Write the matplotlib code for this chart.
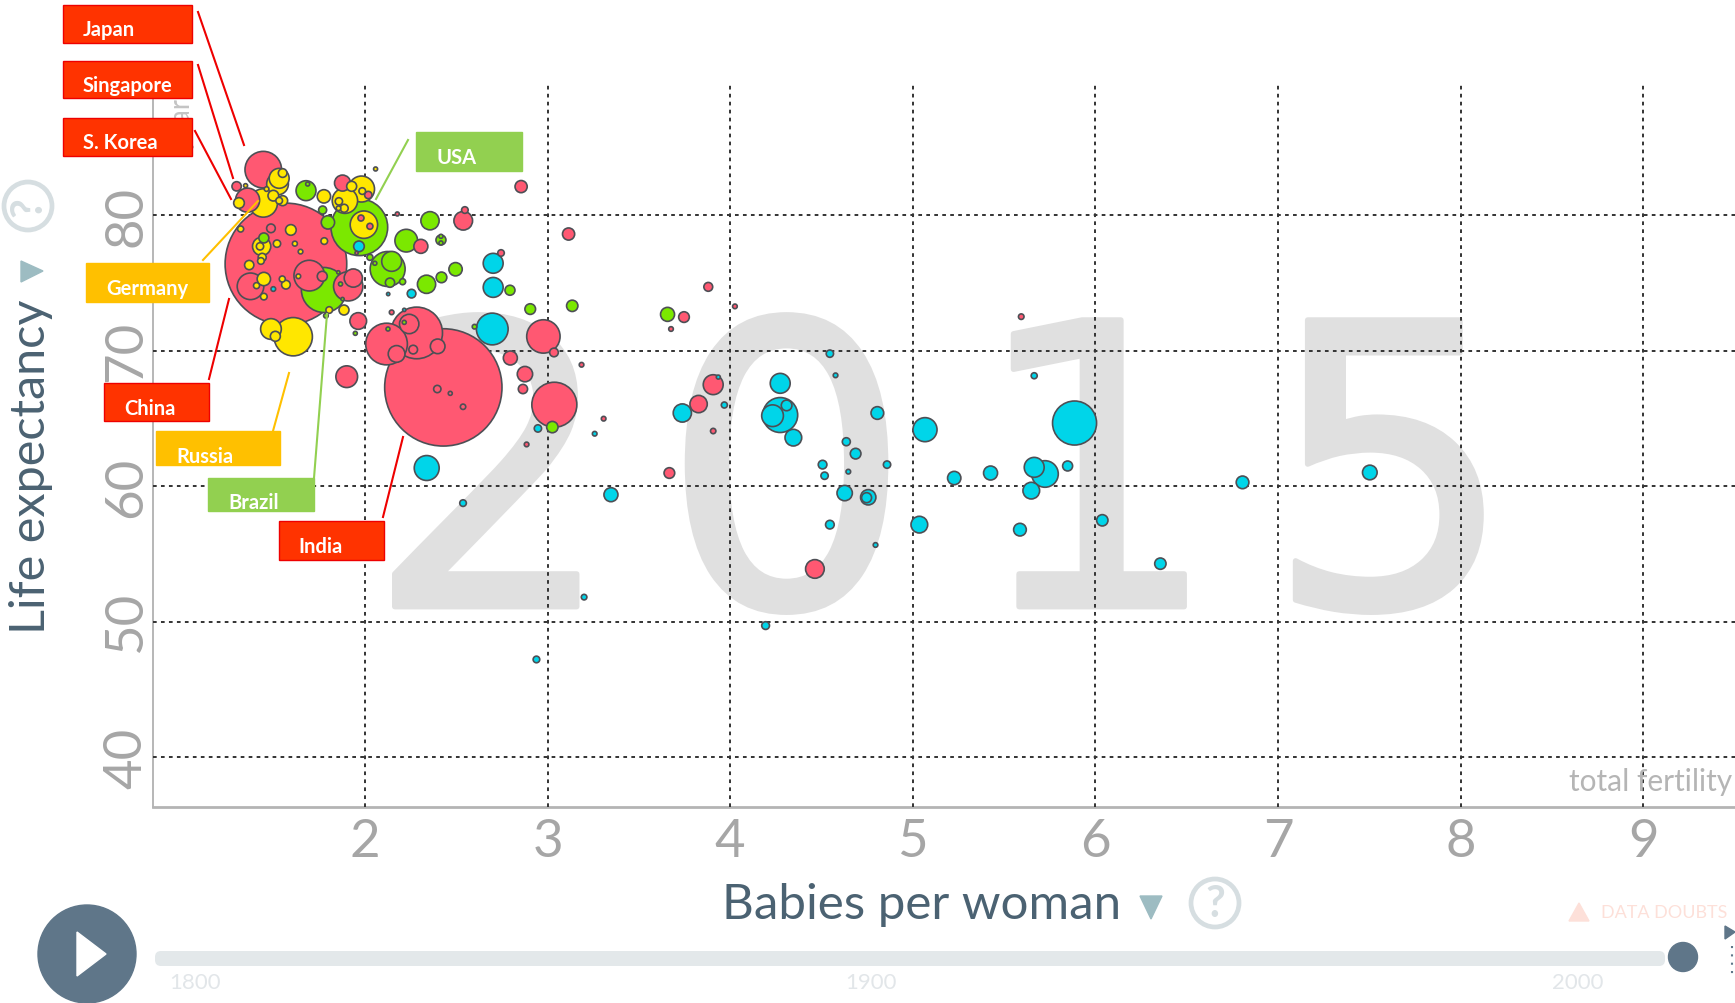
import numpy as np
import matplotlib
matplotlib.use('Agg')
import matplotlib.pyplot as plt
import matplotlib.patheffects as pe
from matplotlib.patches import Polygon, Circle, Rectangle, FancyBboxPatch

plt.rcParams['font.family'] = ['Lato', 'DejaVu Sans']

# asia (pink): fertility, life expectancy, population in millions
asia_fert = [1.443, 1.297, 1.357, 1.877, 2.018, 1.978, 2.027, 1.954, 2.177, 2.538, 2.547, 2.306, 1.485, 1.567,
             1.373, 1.695, 1.766, 1.936, 1.908, 1.963, 2.146, 2.118, 2.283, 2.242, 2.173, 2.264, 2.398, 1.90,
             2.429, 2.396, 2.467, 2.537, 2.977, 3.035, 2.796, 2.876, 2.865, 3.037, 2.885, 3.186, 3.307, 3.676,
             3.747, 3.907, 3.827, 3.907, 3.667, 4.026, 2.855, 3.115, 2.745, 3.88, 4.464, 5.594]
asia_life = [83.35, 82.12, 81.1, 82.36, 81.48, 79.78, 79.17, 77.2, 80.08, 79.58, 80.37, 77.69, 79.02, 76.39,
             74.74, 75.53, 75.48, 75.35, 74.74, 72.18, 72.82, 70.48, 71.3, 71.96, 69.75, 70.07, 70.31, 68.07,
             67.28, 67.16, 66.84, 65.85, 71.04, 69.86, 69.45, 68.26, 67.16, 66.0, 63.07, 68.95, 64.97, 71.59,
             72.47, 67.48, 66.05, 64.06, 60.96, 73.26, 82.1, 78.6, 77.2, 74.7, 53.88, 72.5]
asia_pop = [125, 8.1, 54, 24, 5, 3.4, 3.4, 1, 1.5, 32.5, 4.1, 18.3, 7, 1381,
            66, 88, 9.3, 31, 80, 26, 2, 162, 249, 35, 26, 7, 20, 44,
            1285, 5, 1.5, 2.7, 104, 7, 18.3, 22, 8, 189, 2, 2, 2, 2,
            10.6, 37, 28, 2.7, 10.6, 2, 13.8, 13.8, 4, 7.3, 32.5, 2.9]

# europe (yellow)
eur_fert = [1.310, 1.346, 1.443, 1.521, 1.530, 1.549, 1.498, 1.530, 1.549, 1.461, 1.775, 1.981, 1.890, 1.927,
            1.985, 1.857, 1.886, 1.855, 1.994, 1.594, 1.319, 1.434, 1.425, 1.518, 1.616, 1.647, 1.777, 1.430,
            1.437, 1.366, 1.446, 1.406, 1.446, 1.547, 1.567, 1.635, 1.804, 1.885, 1.607, 1.485, 1.509, 2.058]
eur_life = [80.89, 82.17, 80.89, 82.29, 82.71, 83.1, 81.43, 81.06, 81.06, 81.92, 81.38, 81.92, 81.06, 82.12,
            81.77, 81.01, 80.5, 80.5, 79.29, 78.9, 78.97, 77.69, 77.69, 77.89, 77.89, 77.3, 78.08, 76.61,
            76.88, 76.31, 75.28, 74.79, 73.98, 75.28, 74.86, 75.48, 72.99, 72.99, 71.02, 71.59, 71.05, 83.4]
eur_pop = [10.6, 1.5, 75, 44, 37, 7, 10.6, 4.1, 9.3, 2, 16.6, 63, 60, 9.3,
           4.1, 5, 6, 2, 70, 10.6, 3.4, 31, 5, 5, 2.3, 2, 4.1, 4.1,
           6, 8, 16.6, 3.4, 4.1, 3.4, 7, 2, 4.1, 9.3, 137, 40, 9.3, 1.5]

# americas (green)
ame_fert = [1.677, 1.686, 1.768, 1.797, 1.969, 2.356, 2.226, 2.416, 2.416, 2.416, 2.124, 2.146, 2.137, 2.206,
            2.027, 2.054, 2.337, 2.419, 2.496, 1.446, 1.775, 1.866, 1.854, 1.877, 1.786, 1.947, 2.126, 2.215,
            2.60, 2.905, 3.135, 3.657, 3.026, 2.794]
ame_life = [81.8, 82.29, 80.37, 79.46, 79.1, 79.58, 78.11, 78.16, 78.43, 77.94, 76.02, 76.58, 75.01, 75.08,
            76.88, 76.44, 74.89, 75.4, 76.0, 78.31, 74.47, 74.91, 75.77, 73.8, 72.57, 71.27, 71.59, 72.08,
            71.76, 73.06, 73.3, 72.67, 64.35, 74.45]
ame_pop = [37, 1.5, 6, 16.6, 300, 31, 48, 9.3, 1.5, 1.5, 114, 37, 8, 3.4,
           3.4, 1.5, 31, 10.6, 16.6, 9.3, 189, 1.5, 1, 1, 2, 1.5, 1.5, 1.5,
           2, 10.6, 12, 18.3, 12, 9.3]

# africa (cyan)
afr_fert = [1.967, 1.498, 2.127, 2.255, 2.702, 2.702, 2.215, 2.338, 2.537, 2.697, 2.947, 3.258, 3.347, 3.738,
            3.968, 3.935, 4.546, 4.577, 4.274, 4.274, 4.232, 4.309, 4.346, 4.806, 5.067, 5.886, 5.665, 4.636,
            4.687, 4.859, 4.506, 4.517, 4.647, 4.627, 4.756, 4.747, 4.546, 4.796, 5.036, 5.227, 5.426, 5.665,
            5.724, 5.649, 5.848, 5.587, 6.038, 6.356, 6.806, 7.503, 3.2, 2.939, 4.194]
afr_life = [77.69, 74.54, 74.17, 74.2, 76.44, 74.66, 73.0, 61.33, 58.74, 71.59, 64.25, 63.86, 59.36, 65.39,
            65.98, 68.04, 69.77, 68.17, 67.58, 65.24, 65.19, 65.95, 63.57, 65.39, 64.16, 64.65, 68.14, 63.27,
            62.39, 61.58, 61.58, 60.76, 61.06, 59.48, 59.17, 59.14, 57.15, 55.65, 57.15, 60.59, 60.96, 61.38,
            60.89, 59.66, 61.48, 56.78, 57.47, 54.27, 60.27, 61.0, 51.8, 47.2, 49.7]
afr_pop = [10.6, 2, 1, 7, 37, 37, 1, 58, 4.1, 94, 5, 2, 18.3, 31,
           3.4, 1.5, 5, 2, 37, 114, 44, 10.6, 26, 15, 54, 181, 3.4, 6,
           10.6, 5, 7, 5, 2, 22, 22, 9.3, 7, 2, 26, 16.6, 18.3, 37,
           66, 26, 9.3, 15, 12, 12, 15, 20, 2.9, 4.1, 5.6]

region_colors = {'asia': '#FF5872', 'eur': '#FFE700', 'ame': '#7BE800', 'afr': '#00D5E9'}

x_ticks = [2, 3, 4, 5, 6, 7, 8, 9]
y_ticks = [40, 50, 60, 70, 80]
year_digits = ['2', '0', '1', '5']
year_digit_x = [2.69, 4.309, 6.0, 7.615]
slider_years = ['1800', '1900', '2000']

W, H = 1735, 1004
fig = plt.figure(figsize=(W / 100, H / 100), dpi=100)

# plot area goes 153..1735 across and 83..808 down (pixels)
ax = fig.add_axes([153 / W, 1 - 808 / H, (W - 153) / W, (808 - 83) / H])
ax.set_xlim(0.839, 9.503)
ax.set_ylim(36.31, 89.82)

ax.set_xticks(x_ticks)
ax.set_yticks(y_ticks)
ax.grid(True, color='#333333', linewidth=1.4, linestyle=(0, (1.9, 2.2)), zorder=2)
ax.set_axisbelow(False)
ax.tick_params(length=0, labelsize=38, labelcolor='#a6a6a6')
ax.tick_params(axis='x', pad=8)
ax.tick_params(axis='y', pad=2)
for lab in ax.get_yticklabels():
    lab.set_rotation(90)
    lab.set_va('center')
for s in ['top', 'right']:
    ax.spines[s].set_visible(False)
ax.spines['left'].set_color('#aaaaaa')
ax.spines['left'].set_linewidth(1.2)
ax.spines['bottom'].set_color('#b4b4b4')
ax.spines['bottom'].set_linewidth(2)

for d, xd in zip(year_digits, year_digit_x):
    ax.text(xd, 51.1, d, fontsize=283, color='#E0E0E0', ha='center', va='baseline', family='DejaVu Sans', zorder=1,
            path_effects=[pe.withStroke(linewidth=4, foreground='#E0E0E0', joinstyle='round', capstyle='round')])

# bubbles, biggest first so the small ones stay visible
fert = np.array(asia_fert + eur_fert + ame_fert + afr_fert)
life = np.array(asia_life + eur_life + ame_life + afr_life)
pop = np.array(asia_pop + eur_pop + ame_pop + afr_pop)
cols = np.array([region_colors['asia']] * len(asia_fert) + [region_colors['eur']] * len(eur_fert)
                + [region_colors['ame']] * len(ame_fert) + [region_colors['afr']] * len(afr_fert))
order = np.argsort(-pop, kind='stable')
ax.scatter(fert[order], life[order], s=pop[order] * 5.553, c=cols[order], edgecolors='#4d4f55',
           linewidths=1.2, zorder=3, clip_on=False)

# everything around the chart, in pixel coordinates
ui = fig.add_axes([0, 0, 1, 1], facecolor='none')
ui.set_xlim(0, W)
ui.set_ylim(H, 0)
ui.axis('off')

ui.text(182, 86, 'years', rotation=90, fontsize=20, color='#c4c4c4', ha='center', va='top', zorder=0.5)
ui.text(1732, 782, 'total fertility', fontsize=21.5, color='#b5b5b5', ha='right', va='center')

label_color = '#4b6272'
ui.text(31, 467, 'Life expectancy', rotation=90, fontsize=35, color=label_color, ha='center', va='center')
ui.text(922, 905, 'Babies per woman', fontsize=35.5, color=label_color, ha='center', va='center')

ui.add_patch(Polygon([[21, 262], [43, 272], [21, 283]], color='#9dbcc2'))
ui.add_patch(Polygon([[1140, 897], [1162, 897], [1151, 920]], color='#9dbcc2'))

for cx, cy, rot in [(28, 207, 90), (1215, 904, 0)]:
    ui.add_patch(Circle((cx, cy), 24, fill=False, edgecolor='#d6dee1', linewidth=3.4))
    ui.text(cx, cy, '?', fontsize=31, fontweight='bold', color='#d6dee1', rotation=rot, ha='center', va='center')

# slider and play button
ui.add_patch(FancyBboxPatch((155, 952), 1510, 15, boxstyle='round,pad=0,rounding_size=6',
                            facecolor='#e3e8ea', edgecolor='none', mutation_aspect=1))
ui.add_patch(Circle((1683, 958), 14.5, color='#5f7689'))
ui.add_patch(Circle((87, 955), 49, color='#5f7689', clip_on=False))
ui.add_patch(Polygon([[77, 933], [106, 955], [77, 977]], color='white'))
for lab, sx in zip(slider_years, [195, 871, 1578]):
    ui.text(sx, 983, lab, fontsize=16, color='#e2e6e9', ha='center', va='center')

ui.add_patch(Polygon([[1569, 922], [1579, 904], [1589, 922]], color='#fde0d9'))
ui.text(1601, 913, 'DATA DOUBTS', fontsize=13, color='#fde0d9', ha='left', va='center')
ui.add_patch(Polygon([[1725, 927], [1735, 933], [1735, 933], [1725, 940]], color='#5f7689'))
ui.plot([1732, 1732], [947, 977], color='#5f7689', linewidth=1.5, linestyle=(0, (1, 3)))

# country call-outs
red, orange, lime = '#FF3300', '#FFC000', '#92D050'
boxes = [
    ('Japan', 63, 6, 192, 44, 83, 30, red, (198, 13, 244, 146), '#EE0000'),
    ('Singapore', 63, 62, 192, 99, 83, 86, red, (198, 66, 233, 179), '#EE0000'),
    ('S. Korea', 63, 119, 192, 157, 83, 143, red, (195, 132, 231, 200), '#EE0000'),
    ('USA', 416, 133, 522, 172, 436, 158, lime, (408, 141, 376, 200), lime),
    ('Germany', 86, 264, 209, 303, 106, 289, orange, (203, 261, 258, 202), orange),
    ('China', 104, 384, 209, 422, 124, 409, red, (229, 300, 209, 380), '#EE0000'),
    ('Russia', 156, 432, 280, 466, 176, 457, orange, (289, 374, 273, 432), orange),
    ('Brazil', 208, 479, 314, 512, 228, 503, lime, (327, 315, 314, 479), lime),
    ('India', 279, 522, 384, 561, 298, 547, red, (403, 438, 383, 518), '#EE0000'),
]
for name, x0, y0, x1, y1, tx, ty, col, line, lcol in boxes:
    ui.plot([line[0], line[2]], [line[1], line[3]], color=lcol, linewidth=1.5)
    ui.add_patch(Rectangle((x0, y0), x1 - x0, y1 - y0, facecolor=col,
                           edgecolor='#EE0000' if col == red else col, linewidth=1))
    ui.text(tx, ty, name, color='white', fontsize=14.5, fontweight='bold', ha='left', va='center')

fig.savefig('out.png', dpi=100)
